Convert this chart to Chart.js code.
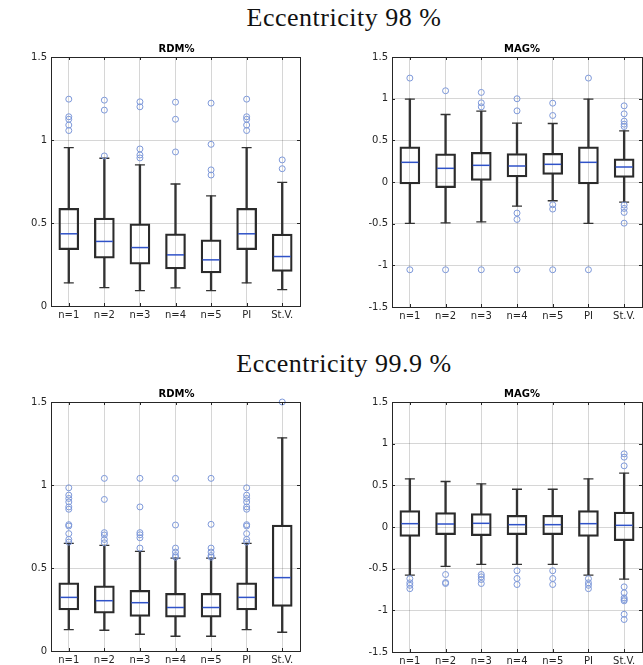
<!DOCTYPE html>
<html>
<head>
<meta charset="utf-8">
<script src="https://cdn.jsdelivr.net/npm/chart.js@4.4.1/dist/chart.umd.min.js"></script>
<style>
  html, body { margin: 0; padding: 0; background: #fff; }
  body { width: 643px; height: 665px; position: relative; overflow: hidden; }
  canvas { position: absolute; }
  .head {
    position: absolute; left: 0; width: 688px; text-align: center;
    font-family: "Liberation Serif", serif; font-size: 26px; line-height: 26px;
    letter-spacing: 0.5px; color: #111;
  }
</style>
</head>
<body>
<div class="head" style="top:5px">Eccentricity 98 %</div>
<div class="head" style="top:351px">Eccentricity 99.9 %</div>
<canvas id="c1" width="310" height="285" style="left:0px;top:41px"></canvas>
<canvas id="c2" width="311" height="286" style="left:341px;top:41px"></canvas>
<canvas id="c3" width="310" height="285" style="left:0px;top:386px"></canvas>
<canvas id="c4" width="311" height="286" style="left:341px;top:386px"></canvas>
<script>
const labels = ["n=1", "n=2", "n=3", "n=4", "n=5", "PI", "St.V."];

// Eccentricity 98 %, RDM%
const rdm98Low  = [0.139, 0.111, 0.093, 0.109, 0.093, 0.139, 0.099];
const rdm98Q1   = [0.340, 0.288, 0.252, 0.223, 0.199, 0.340, 0.209];
const rdm98Med  = [0.435, 0.389, 0.352, 0.308, 0.278, 0.435, 0.298];
const rdm98Q3   = [0.588, 0.530, 0.495, 0.435, 0.399, 0.588, 0.433];
const rdm98High = [0.954, 0.890, 0.850, 0.735, 0.664, 0.954, 0.745];
const rdm98Out  = [
  [1.246, 1.140, 1.125, 1.090, 1.057],
  [1.240, 1.180, 0.904],
  [1.230, 1.200, 0.946, 0.910, 0.892],
  [1.228, 1.125, 0.928],
  [1.222, 0.974, 0.820, 0.789],
  [1.246, 1.140, 1.125, 1.090, 1.057],
  [0.880, 0.827]
];

// Eccentricity 98 %, MAG%
const mag98Low  = [-0.497, -0.490, -0.478, -0.289, -0.225, -0.497, -0.241];
const mag98Q1   = [-0.024, -0.068, 0.020, 0.060, 0.092, -0.024, 0.056];
const mag98Med  = [0.236, 0.164, 0.200, 0.192, 0.212, 0.236, 0.180];
const mag98Q3   = [0.421, 0.337, 0.357, 0.341, 0.345, 0.421, 0.277];
const mag98High = [0.995, 0.810, 0.850, 0.706, 0.702, 0.995, 0.614];
const mag98Out  = [
  [1.247, -1.053],
  [1.095, -1.053],
  [1.075, 0.950, 0.902, -1.053],
  [0.999, 0.854, -0.373, -0.449, -1.053],
  [0.946, 0.798, -0.273, -0.325, -1.053],
  [1.247, -1.053],
  [0.914, 0.818, 0.730, 0.694, 0.666, -0.277, -0.317, -0.365, -0.494]
];

// Eccentricity 99.9 %, RDM%
const rdm999Low  = [0.129, 0.125, 0.101, 0.089, 0.089, 0.129, 0.113];
const rdm999Q1   = [0.248, 0.228, 0.208, 0.204, 0.204, 0.248, 0.269];
const rdm999Med  = [0.323, 0.303, 0.291, 0.262, 0.262, 0.323, 0.442];
const rdm999Q3   = [0.410, 0.392, 0.365, 0.347, 0.347, 0.410, 0.759];
const rdm999High = [0.648, 0.636, 0.600, 0.560, 0.560, 0.648, 1.284];
const rdm999Out  = [
  [0.983, 0.939, 0.919, 0.898, 0.868, 0.854, 0.761, 0.753, 0.707, 0.672, 0.656],
  [1.040, 0.913, 0.713, 0.699, 0.672, 0.652],
  [1.040, 0.868, 0.713, 0.700, 0.682, 0.620],
  [1.040, 0.759, 0.620, 0.596, 0.575, 0.565],
  [1.040, 0.763, 0.620, 0.596, 0.575, 0.565],
  [0.983, 0.939, 0.919, 0.898, 0.868, 0.854, 0.761, 0.753, 0.707, 0.672, 0.656],
  [1.500]
];

// Eccentricity 99.9 %, MAG%
const mag999Low  = [-0.578, -0.473, -0.449, -0.449, -0.449, -0.578, -0.626];
const mag999Q1   = [-0.112, -0.092, -0.104, -0.092, -0.092, -0.112, -0.164];
const mag999Med  = [0.040, 0.036, 0.044, 0.028, 0.028, 0.040, 0.020];
const mag999Q3   = [0.197, 0.172, 0.160, 0.140, 0.140, 0.197, 0.180];
const mag999High = [0.578, 0.546, 0.517, 0.453, 0.453, 0.578, 0.646];
const mag999Out  = [
  [-0.620, -0.670, -0.700, -0.740],
  [-0.570, -0.666, -0.678],
  [-0.570, -0.598, -0.630, -0.678],
  [-0.525, -0.618, -0.690],
  [-0.525, -0.618, -0.690],
  [-0.620, -0.670, -0.700, -0.740],
  [0.878, 0.838, 0.734, -0.718, -0.790, -0.850, -0.870, -0.886, -1.047, -1.110]
];

Chart.defaults.font.family = "DejaVu Sans";
Chart.defaults.font.size = 10;
Chart.defaults.color = "#262626";

// box outline, small inward tick marks and the panel title over the plot area
const frame = {
  id: "frame",
  afterDraw(chart, args, opts) {
    const a = chart.chartArea, ctx = chart.ctx;
    ctx.save();
    ctx.strokeStyle = "#262626";
    ctx.lineWidth = 1;
    ctx.strokeRect(Math.round(a.left) + 0.5, Math.round(a.top) + 0.5,
                   Math.round(a.right - a.left), Math.round(a.bottom - a.top));
    ctx.beginPath();
    chart.scales.x.ticks.forEach((t, i) => {
      const x = Math.round(chart.scales.x.getPixelForTick(i)) + 0.5;
      ctx.moveTo(x, a.top); ctx.lineTo(x, a.top + 3);
      ctx.moveTo(x, a.bottom); ctx.lineTo(x, a.bottom - 3);
    });
    chart.scales.y.ticks.forEach((t, i) => {
      const y = Math.round(chart.scales.y.getPixelForTick(i)) + 0.5;
      ctx.moveTo(a.left, y); ctx.lineTo(a.left + 3, y);
      ctx.moveTo(a.right, y); ctx.lineTo(a.right - 3, y);
    });
    ctx.stroke();
    ctx.fillStyle = "#000";
    ctx.font = "bold 10px 'DejaVu Sans'";
    ctx.textAlign = "center";
    ctx.textBaseline = "middle";
    ctx.fillText(opts.text, (a.left + a.right) / 2 + (opts.shift || 0), a.top - 8);
    ctx.restore();
  }
};

function boxPanel(id, title, shift, yMin, yMax, low, q1, med, q3, high, out) {
  const caps = [], meds = [], pts = [];
  labels.forEach((lab, i) => {
    caps.push({x: lab, y: low[i]}, {x: lab, y: high[i]});
    meds.push({x: lab, y: med[i]});
    out[i].forEach(v => pts.push({x: lab, y: v}));
  });
  new Chart(document.getElementById(id), {
    type: "bar",
    data: {
      labels: labels,
      datasets: [
        {
          type: "scatter", data: pts, order: 0, clip: false,
          pointStyle: "circle", pointRadius: 3, pointBorderWidth: 1,
          borderColor: "#7d98d9", backgroundColor: "rgba(0,0,0,0)"
        },
        {
          type: "scatter", data: meds, order: 1,
          pointStyle: "line", pointRadius: 8.5, pointBorderWidth: 1.5,
          borderColor: "#2f52c8"
        },
        {
          type: "scatter", data: caps, order: 2,
          pointStyle: "line", pointRadius: 5, pointBorderWidth: 1.3,
          borderColor: "#333333"
        },
        {
          data: q1.map((v, i) => [v, q3[i]]), grouped: false, order: 3,
          barThickness: 20, borderWidth: 1.6, borderSkipped: false,
          borderColor: "#2b2b2b", backgroundColor: "rgba(0,0,0,0)"
        },
        {
          data: low.map((v, i) => [v, q1[i]]), grouped: false, order: 4,
          barThickness: 1.7, borderWidth: 0, backgroundColor: "#333333"
        },
        {
          data: q3.map((v, i) => [v, high[i]]), grouped: false, order: 5,
          barThickness: 1.7, borderWidth: 0, backgroundColor: "#333333"
        }
      ]
    },
    options: {
      responsive: false,
      animation: false,
      events: [],
      layout: { padding: { left: 0, right: 3, top: 16, bottom: 0 } },
      plugins: {
        legend: { display: false },
        tooltip: { enabled: false },
        title: { display: false },
        frame: { text: title, shift: shift }
      },
      scales: {
        x: {
          grid: { offset: false, color: "rgba(0,0,0,0.16)", drawTicks: false },
          border: { display: false },
          ticks: { padding: 3, maxRotation: 0 },
          afterFit(s) { s.height = 20; }
        },
        y: {
          min: yMin, max: yMax,
          grid: { color: "rgba(0,0,0,0.16)", drawTicks: false },
          border: { display: false },
          ticks: {
            stepSize: 0.5, padding: 4,
            callback: v => String(Number(v.toFixed(2)))
          },
          afterFit(s) { s.width = 51; }
        }
      }
    },
    plugins: [frame]
  });
}

boxPanel("c1", "RDM%", 1, 0, 1.5, rdm98Low, rdm98Q1, rdm98Med, rdm98Q3, rdm98High, rdm98Out);
boxPanel("c2", "MAG%", 5, -1.5, 1.5, mag98Low, mag98Q1, mag98Med, mag98Q3, mag98High, mag98Out);
boxPanel("c3", "RDM%", 1, 0, 1.5, rdm999Low, rdm999Q1, rdm999Med, rdm999Q3, rdm999High, rdm999Out);
boxPanel("c4", "MAG%", 5, -1.5, 1.5, mag999Low, mag999Q1, mag999Med, mag999Q3, mag999High, mag999Out);
</script>
</body>
</html>
